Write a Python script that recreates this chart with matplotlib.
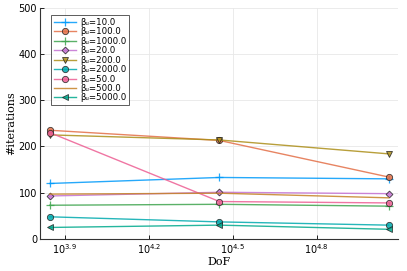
import numpy as np
import matplotlib.pyplot as plt

# -- data --
dof = [7015, 28310, 113760]
beta_labels = ['10.0', '100.0', '1000.0', '20.0', '200.0', '2000.0', '50.0', '500.0', '5000.0']
iters_10 = [120, 133, 130]
iters_100 = [235, 213, 134]
iters_1000 = [73, 75, 71]
iters_20 = [93, 101, 98]
iters_200 = [225, 214, 184]
iters_2000 = [48, 37, 30]
iters_50 = [230, 81, 78]
iters_500 = [97, 99, 89]
iters_5000 = [25, 30, 21]
all_iters = [iters_10, iters_100, iters_1000, iters_20, iters_200,
             iters_2000, iters_50, iters_500, iters_5000]

xtick_exps = [3.9, 4.2, 4.5, 4.8]
yticks = [0, 100, 200, 300, 400, 500]

# Julia Plots default palette
colors = ['#009AFA', '#E36F47', '#3EA44E', '#C371D2', '#AC8E18',
          '#00AAAE', '#ED5E93', '#C68225', '#00A98D']
markers = ['+', 'o', '+', 'D', 'v', 'o', 'o', 'None', '<']
msizes = [5.5, 4.5, 5.5, 3.5, 5, 4.5, 4.5, 0, 4]

fig = plt.figure(figsize=(4.07, 2.71), dpi=100)
ax = fig.add_axes([0.098, 0.118, 0.880, 0.854])

for lab, y, c, m, ms in zip(beta_labels, all_iters, colors, markers, msizes):
    ax.plot(dof, y, color=c, lw=1.0, alpha=0.85, marker=m, markersize=ms,
            markerfacecolor=c, markeredgecolor=('#222222' if m not in ['+', 'None'] else c),
            markeredgewidth=(0.6 if m not in ['+', 'None'] else 0.9),
            label='\u03b2\u1d64=' + lab)

ax.set_xscale('log')
ax.set_xlim(10 ** 3.811, 10 ** 5.09)
ax.set_ylim(0, 500)
ax.set_xticks([10 ** e for e in xtick_exps])
ax.set_xticklabels([r'$10^{%.1f}$' % e for e in xtick_exps])
ax.xaxis.set_minor_locator(plt.NullLocator())
ax.set_yticks(yticks)
ax.tick_params(labelsize=7, length=3, width=0.6, direction='in', pad=2)
ax.grid(True, color='#e8e8e8', lw=0.6)
ax.set_axisbelow(True)
for s in ['top', 'right']:
    ax.spines[s].set_visible(False)
for s in ['left', 'bottom']:
    ax.spines[s].set_color('#333333')
    ax.spines[s].set_linewidth(0.8)

ax.set_xlabel('DoF', family='DejaVu Serif', fontsize=8, labelpad=1)
ax.set_ylabel('#iterations', family='DejaVu Serif', fontsize=8, labelpad=2)

leg = ax.legend(loc='upper left', bbox_to_anchor=(0.03, 0.97), fontsize=6.2,
                frameon=True, fancybox=False, edgecolor='#333333',
                handlelength=2.6, labelspacing=0.05, borderpad=0.3,
                handletextpad=0.4, borderaxespad=0.1)
leg.get_frame().set_linewidth(0.7)

fig.savefig('out.png', dpi=100)
